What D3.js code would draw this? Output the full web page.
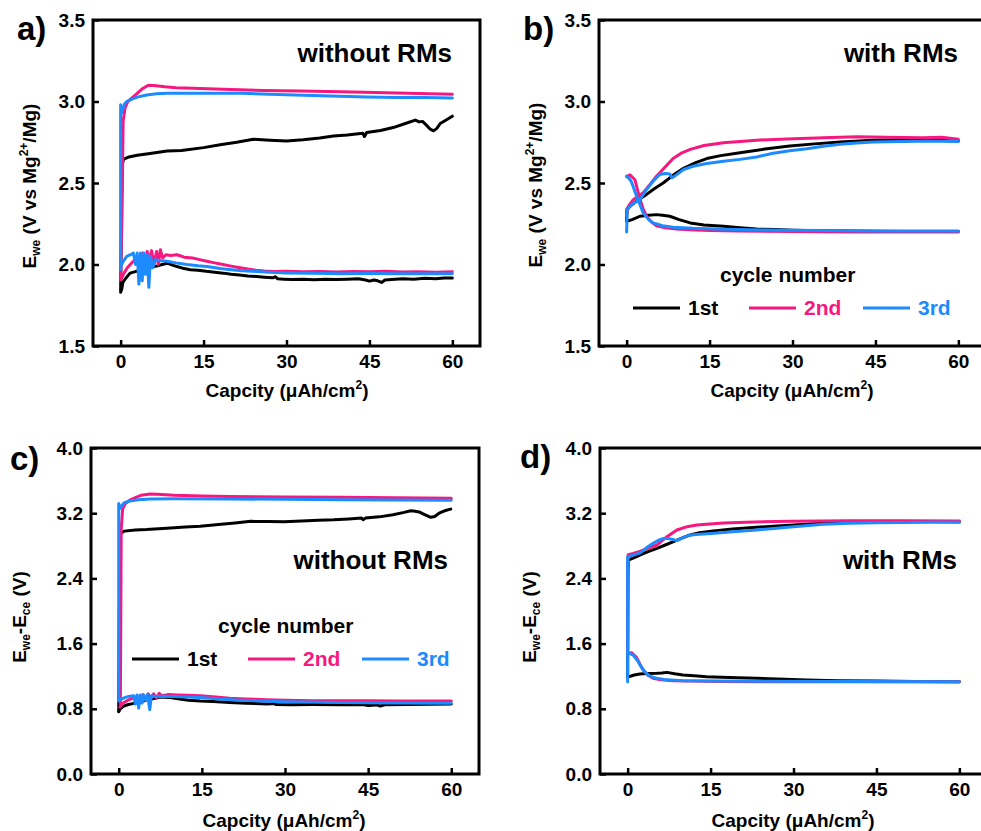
<!DOCTYPE html>
<html>
<head>
<meta charset="utf-8">
<script src="https://cdn.jsdelivr.net/npm/d3@7"></script>
<style>
  html, body { margin: 0; padding: 0; background: #fff; }
  svg text { font-family: "Liberation Sans", Arial, Helvetica, sans-serif; font-weight: bold; }
</style>
</head>
<body>
<svg id="chart" width="981" height="831"></svg>
<script>
// ---- axis ticks ----
const xTicks = [0, 15, 30, 45, 60];
const yTicksRef = [1.5, 2.0, 2.5, 3.0, 3.5];
const yTicksCell = [0.0, 0.8, 1.6, 2.4, 3.2, 4.0];

const cycleNames = ["1st", "2nd", "3rd"];
const cycleColors = ["#000000", "#f7187f", "#1c8bff"];

// ---- a) E_we vs Mg, without RMs : [capacity, voltage] ----
const aCharge1 = [[0,1.84],[0.12,2.2],[0.22,2.6],[0.5,2.645],[1.5,2.66],[3,2.67],[5,2.68],[8.4,2.696],[11,2.7],[15,2.717],[18,2.735],[21,2.75],[24,2.768],[27,2.762],[30,2.757],[33,2.765],[36,2.776],[38.5,2.788],[41,2.795],[43.8,2.805],[44.1,2.785],[44.5,2.81],[47,2.822],[49.3,2.84],[51.5,2.865],[53.3,2.886],[54,2.875],[54.6,2.878],[55.3,2.855],[56,2.83],[56.6,2.82],[57.2,2.835],[57.8,2.865],[58.8,2.885],[60,2.91]];
const aCharge2 = [[0,1.92],[0.25,2.3],[0.45,2.88],[0.8,2.96],[1.3,3.0],[2,3.02],[3,3.05],[4,3.08],[5,3.1],[6,3.098],[8,3.09],[10,3.085],[14.4,3.08],[20,3.073],[26,3.068],[32.5,3.065],[40,3.06],[46,3.055],[52,3.05],[60,3.045]];
const aCharge3 = [[0,1.97],[0,2.98],[0.15,2.93],[0.35,2.95],[0.7,2.985],[1.1,3.0],[2,3.015],[3,3.027],[4.7,3.04],[6.5,3.047],[8.4,3.05],[15,3.05],[22,3.05],[30,3.042],[38,3.034],[44.5,3.028],[50,3.025],[55,3.024],[60,3.022]];
const aDischarge1 = [[0,1.83],[0.2,1.85],[0.4,1.89],[0.8,1.91],[1.7,1.947],[2.5,1.955],[3.5,1.965],[4.5,1.975],[5.5,1.985],[6.5,1.99],[7.5,2.0],[8.4,2.008],[9.5,1.995],[10.5,1.985],[11.5,1.975],[12.6,1.968],[14,1.965],[15.5,1.958],[17,1.953],[18.6,1.947],[20,1.94],[21.5,1.935],[23,1.93],[24.6,1.926],[26,1.922],[27.5,1.918],[28,1.925],[28.4,1.912],[29.5,1.91],[31,1.908],[33,1.91],[35,1.907],[37,1.91],[39,1.908],[41,1.91],[43,1.912],[44.3,1.905],[45,1.898],[45.8,1.905],[46.5,1.9],[47.2,1.89],[47.8,1.905],[49,1.908],[51,1.912],[53,1.91],[55,1.915],[57,1.912],[58.5,1.917],[60,1.917]];
const aDischarge2 = [[0,1.905],[0.5,1.94],[1.2,1.98],[2.3,2.02],[3,2.04],[3.5,2.0],[4,2.07],[4.4,1.99],[4.8,2.08],[5.2,2.02],[5.6,2.085],[6,2.0],[6.5,2.08],[6.8,2.0],[7.2,2.09],[7.6,2.04],[8.2,2.06],[9,2.055],[10.2,2.06],[11.5,2.045],[13,2.04],[14.3,2.03],[15.6,2.02],[17,2.01],[18.5,2.0],[20,1.99],[21.6,1.98],[23,1.972],[24.5,1.965],[26,1.96],[27.6,1.957],[30,1.958],[33,1.955],[36,1.957],[39,1.954],[42,1.957],[45,1.955],[48,1.958],[51,1.954],[54,1.956],[57,1.953],[60,1.955]];
const aDischarge3 = [[0,1.99],[0.5,2.02],[1.1,2.05],[1.8,2.06],[2.3,2.07],[2.7,2.0],[3.0,2.07],[3.3,1.88],[3.6,2.07],[3.9,1.9],[4.2,2.07],[4.5,1.94],[4.8,2.06],[5.1,1.86],[5.4,2.05],[5.8,1.98],[6.3,2.03],[7,2.025],[8.4,2.02],[10,2.01],[12,2.0],[14,1.992],[15.6,1.988],[18,1.975],[20,1.968],[22,1.962],[24.6,1.957],[27,1.952],[30,1.948],[35,1.946],[40,1.944],[45,1.945],[50,1.943],[55,1.944],[60,1.943]];

// ---- b) E_we vs Mg, with RMs ----
const bCharge1 = [[0,2.27],[0.05,2.34],[0.6,2.357],[2,2.395],[3.6,2.43],[5,2.465],[6.6,2.5],[8.5,2.55],[10.3,2.59],[12.5,2.625],[14.5,2.65],[17,2.668],[20.5,2.686],[25,2.708],[29.5,2.727],[34,2.74],[38.6,2.751],[44.6,2.763],[50,2.765],[55,2.762],[60,2.757]];
const bCharge2 = [[0,2.3],[0.3,2.357],[1.2,2.398],[3,2.44],[4.2,2.49],[5.4,2.542],[7,2.6],[8.4,2.65],[10,2.685],[11.5,2.706],[14,2.73],[17.5,2.747],[23.5,2.763],[29,2.77],[35.6,2.778],[41.6,2.783],[47,2.78],[53.6,2.777],[57,2.78],[60,2.768]];
const bCharge3 = [[0,2.2],[0.1,2.337],[1,2.37],[2.4,2.398],[3.6,2.46],[4.8,2.511],[6,2.552],[7,2.558],[7.8,2.556],[8.2,2.532],[8.8,2.545],[10.3,2.583],[12,2.603],[14.5,2.62],[17.5,2.633],[20.5,2.645],[23.5,2.66],[26.5,2.682],[29.5,2.698],[32.6,2.71],[35.6,2.725],[38.6,2.737],[41.6,2.746],[44.6,2.752],[50,2.755],[55,2.757],[60,2.755]];
const bDischarge1 = [[0,2.265],[1,2.275],[2.4,2.296],[4,2.302],[5.4,2.306],[6.5,2.302],[7.8,2.296],[9.5,2.275],[11.5,2.255],[14,2.243],[17.5,2.234],[20.5,2.226],[23.5,2.218],[27,2.214],[30,2.21],[35,2.207],[40,2.205],[45,2.204],[50,2.203],[55,2.202],[60,2.203]];
const bDischarge2 = [[0,2.54],[0.6,2.55],[1.5,2.52],[2.4,2.40],[3,2.34],[3.6,2.296],[4.5,2.26],[5.4,2.238],[7,2.225],[9,2.218],[11.5,2.213],[15,2.208],[20,2.205],[30,2.203],[40,2.2],[50,2.2],[60,2.2]];
const bDischarge3 = [[0,2.542],[0.5,2.525],[0.9,2.505],[1.8,2.419],[3,2.317],[4,2.275],[4.8,2.255],[6.5,2.238],[8.4,2.228],[12,2.222],[17.5,2.217],[25,2.212],[35,2.208],[45,2.206],[60,2.205]];

// ---- c) cell voltage, without RMs ----
const cCharge1 = [[0,0.77],[0.12,2.0],[0.25,2.95],[1,2.98],[3,2.995],[5,3.0],[8.7,3.015],[12,3.03],[14.7,3.04],[18,3.06],[21,3.08],[23.8,3.1],[27,3.097],[29.8,3.096],[33,3.105],[36,3.115],[38.8,3.12],[41.5,3.13],[43.8,3.14],[44.1,3.12],[44.5,3.14],[47,3.155],[49.5,3.18],[51.5,3.21],[52.7,3.23],[53.5,3.225],[54.2,3.215],[55,3.19],[56.3,3.15],[57,3.16],[57.8,3.2],[58.8,3.23],[59.9,3.25]];
const cCharge2 = [[0.3,0.85],[0.45,3.0],[0.7,3.25],[1.2,3.32],[2,3.36],[3,3.39],[4,3.42],[5.7,3.436],[7,3.432],[10,3.42],[15,3.41],[20,3.405],[30,3.4],[40,3.395],[50,3.39],[60,3.383]];
const cCharge3 = [[0,0.9],[0,3.32],[0.2,3.26],[0.5,3.29],[1,3.33],[2,3.35],[3.5,3.365],[5.7,3.374],[10,3.378],[20,3.375],[30,3.37],[40,3.365],[50,3.362],[60,3.36]];
const cDischarge1 = [[0,0.765],[0.3,0.8],[0.8,0.83],[1.6,0.85],[2.7,0.867],[4,0.89],[5.5,0.915],[7.5,0.945],[9,0.94],[11,0.92],[12.6,0.905],[14.7,0.896],[17,0.89],[20,0.878],[23,0.868],[26.8,0.859],[28,0.866],[28.4,0.852],[31,0.85],[35,0.852],[40,0.849],[44,0.852],[45,0.84],[46.5,0.848],[47.2,0.835],[48,0.85],[52,0.853],[56,0.855],[60,0.858]];
const cDischarge2 = [[0.2,0.82],[0.8,0.87],[1.5,0.9],[2.5,0.93],[3.5,0.95],[4,0.91],[4.4,0.975],[4.8,0.92],[5.3,0.985],[5.8,0.93],[6.3,0.985],[6.8,0.93],[7.3,0.99],[7.8,0.96],[9,0.975],[10.5,0.97],[12.5,0.965],[14.7,0.96],[17,0.948],[20,0.93],[23,0.92],[26.8,0.912],[30,0.905],[35,0.9],[40,0.9],[45,0.898],[50,0.897],[55,0.896],[60,0.895]];
const cDischarge3 = [[0,0.9],[0.5,0.92],[1.2,0.94],[2,0.955],[2.7,0.96],[3,0.86],[3.3,0.97],[3.6,0.81],[3.9,0.97],[4.2,0.87],[4.5,0.97],[4.9,0.9],[5.2,0.97],[5.6,0.79],[5.9,0.96],[6.5,0.95],[8,0.955],[10,0.952],[14.7,0.94],[18,0.92],[22,0.905],[26.8,0.892],[30,0.885],[40,0.877],[50,0.872],[60,0.867]];

// ---- d) cell voltage, with RMs ----
const dCharge1 = [[0,1.2],[0.05,2.4],[0.1,2.626],[1,2.65],[2.2,2.687],[3.7,2.728],[5.3,2.769],[6.8,2.81],[8.3,2.85],[9.8,2.895],[11.3,2.933],[13,2.96],[15.1,2.98],[19,3.005],[23.3,3.027],[27,3.043],[30,3.055],[35.4,3.076],[40,3.088],[45,3.096],[50,3.098],[55,3.097],[60,3.096]];
const dCharge2 = [[0,1.47],[0.05,2.4],[0.1,2.69],[1,2.705],[2.2,2.73],[3.7,2.77],[5.3,2.81],[6.2,2.86],[7.1,2.912],[8.9,2.994],[10.5,3.03],[12.5,3.055],[17.3,3.08],[23,3.092],[29.4,3.1],[35,3.104],[40,3.106],[50,3.106],[60,3.105]];
const dCharge3 = [[0,1.133],[0,2.667],[1,2.685],[2.2,2.71],[3.4,2.775],[4.6,2.83],[5.5,2.865],[6.5,2.89],[7.3,2.89],[8,2.88],[8.9,2.864],[10,2.9],[11.3,2.933],[13,2.942],[15.1,2.95],[19,2.972],[23.3,2.994],[27,3.015],[30,3.035],[35.4,3.064],[40,3.076],[45,3.084],[50,3.087],[55,3.088],[60,3.088]];
const dDischarge1 = [[0,1.194],[0.5,1.2],[1.2,1.215],[2.2,1.227],[3.5,1.232],[5.3,1.235],[6.2,1.24],[7.1,1.247],[8.5,1.23],[10,1.215],[12,1.205],[14.3,1.194],[17,1.188],[20,1.18],[23.3,1.174],[27,1.165],[32.4,1.153],[38,1.145],[45,1.14],[52,1.136],[60,1.133]];
const dDischarge2 = [[0,1.47],[0.2,1.481],[0.7,1.489],[1.6,1.432],[2.2,1.35],[2.8,1.276],[3.6,1.215],[4.6,1.174],[6,1.155],[8.3,1.145],[12,1.14],[17,1.135],[25,1.133],[40,1.132],[60,1.133]];
const dDischarge3 = [[0,1.48],[0.5,1.475],[1,1.46],[1.9,1.378],[2.5,1.31],[3.1,1.255],[4,1.2],[5.3,1.174],[7,1.155],[10,1.145],[15,1.14],[25,1.137],[40,1.135],[60,1.133]];

// ---- panel layout ----
const panels = [
  { letter: "a)", lx: 17, ly: 40, left: 93, right: 480, top: 20, bottom: 346,
    yDomain: [1.5, 3.5], yTicks: yTicksRef, yTitle: "ref", ytx: 36, yty: 186,
    xtx: 287, xty: 397, note: "without RMs", nx: 452, ny: 62,
    series: [[aCharge1, aDischarge1], [aCharge2, aDischarge2], [aCharge3, aDischarge3]] },
  { letter: "b)", lx: 523, ly: 40, left: 599, right: 986, top: 20, bottom: 346,
    yDomain: [1.5, 3.5], yTicks: yTicksRef, yTitle: "ref", ytx: 542, yty: 185,
    xtx: 792, xty: 397, note: "with RMs", nx: 958, ny: 62,
    legend: { tx: 720, ty: 282, ly: 308, x: [633, 749, 863], tw: 47, lty: 315 },
    series: [[bCharge1, bDischarge1], [bCharge2, bDischarge2], [bCharge3, bDischarge3]] },
  { letter: "c)", lx: 10, ly: 470, left: 91, right: 479, top: 448, bottom: 774,
    yDomain: [0, 4], yTicks: yTicksCell, yTitle: "cell", ytx: 26, yty: 617,
    xtx: 284, xty: 827, note: "without RMs", nx: 448, ny: 569,
    legend: { tx: 218, ty: 633, ly: 659, x: [132, 248, 362], tw: 47, lty: 666 },
    series: [[cCharge1, cDischarge1], [cCharge2, cDischarge2], [cCharge3, cDischarge3]] },
  { letter: "d)", lx: 520, ly: 468, left: 600, right: 987, top: 448, bottom: 774,
    yDomain: [0, 4], yTicks: yTicksCell, yTitle: "cell", ytx: 536, yty: 617,
    xtx: 793, xty: 827, note: "with RMs", nx: 957, ny: 569,
    series: [[dCharge1, dDischarge1], [dCharge2, dDischarge2], [dCharge3, dDischarge3]] }
];

const svg = d3.select("#chart");

function yTitle(g, kind) {
  const t = g.append("text").attr("text-anchor", "middle").attr("font-size", 19);
  if (kind === "ref") {
    t.append("tspan").text("E");
    t.append("tspan").attr("font-size", 12).attr("dy", 4).text("we");
    t.append("tspan").attr("dy", -4).text(" (V vs Mg");
    t.append("tspan").attr("font-size", 12).attr("dy", -8).text("2+");
    t.append("tspan").attr("dy", 8).text("/Mg)");
  } else {
    t.append("tspan").text("E");
    t.append("tspan").attr("font-size", 12).attr("dy", 4).text("we");
    t.append("tspan").attr("dy", -4).text("-E");
    t.append("tspan").attr("font-size", 12).attr("dy", 4).text("ce");
    t.append("tspan").attr("dy", -4).text(" (V)");
  }
  return t;
}

panels.forEach(p => {
  const g = svg.append("g");
  const x = d3.scaleLinear().domain([-5, 65]).range([p.left, p.right]);
  const y = d3.scaleLinear().domain(p.yDomain).range([p.bottom, p.top]);

  // curves: black, pink, blue
  const line = d3.line().x(d => x(d[0])).y(d => y(d[1]));
  p.series.forEach((pair, i) => {
    pair.forEach(arr => {
      g.append("path").datum(arr).attr("d", line)
        .attr("fill", "none").attr("stroke", cycleColors[i])
        .attr("stroke-width", 3).attr("stroke-linejoin", "round").attr("stroke-linecap", "round");
    });
  });

  // axes with inward ticks
  const xAxis = d3.axisBottom(x).tickValues(xTicks).tickSizeInner(-6).tickSizeOuter(0).tickPadding(9)
    .tickFormat(d3.format("d"));
  const gx = g.append("g").attr("transform", `translate(0,${p.bottom})`).call(xAxis);
  const yAxis = d3.axisLeft(y).tickValues(p.yTicks).tickSizeInner(-6).tickSizeOuter(0).tickPadding(8)
    .tickFormat(d3.format(".1f"));
  const gy = g.append("g").attr("transform", `translate(${p.left},0)`).call(yAxis);
  [gx, gy].forEach(a => {
    a.select(".domain").remove();
    a.selectAll(".tick line").attr("stroke", "#000").attr("stroke-width", 2.5);
    a.selectAll(".tick text").attr("fill", "#000").attr("font-size", 19)
      .attr("font-family", "Liberation Sans, Arial, sans-serif").attr("font-weight", "bold");
  });

  // frame
  g.append("rect").attr("x", p.left).attr("y", p.top)
    .attr("width", p.right - p.left).attr("height", p.bottom - p.top)
    .attr("fill", "none").attr("stroke", "#000").attr("stroke-width", 3);

  // panel letter
  g.append("text").attr("x", p.lx).attr("y", p.ly).attr("font-size", 33).text(p.letter);

  // annotation
  g.append("text").attr("x", p.nx).attr("y", p.ny).attr("text-anchor", "end")
    .attr("font-size", 26).text(p.note);

  // x title
  const xt = g.append("text").attr("x", p.xtx).attr("y", p.xty).attr("text-anchor", "middle").attr("font-size", 19);
  xt.append("tspan").text("Capcity (\u03bcAh/cm");
  xt.append("tspan").attr("font-size", 12).attr("dy", -8).text("2");
  xt.append("tspan").attr("dy", 8).text(")");

  // y title
  yTitle(g, p.yTitle).attr("transform", `translate(${p.ytx},${p.yty}) rotate(-90)`);

  // legend
  if (p.legend) {
    const L = p.legend;
    g.append("text").attr("x", L.tx).attr("y", L.ty).attr("font-size", 21).text("cycle number");
    cycleNames.forEach((name, i) => {
      g.append("line").attr("x1", L.x[i]).attr("x2", L.x[i] + L.tw)
        .attr("y1", L.ly).attr("y2", L.ly)
        .attr("stroke", cycleColors[i]).attr("stroke-width", 3);
      g.append("text").attr("x", L.x[i] + L.tw + 8).attr("y", L.lty)
        .attr("font-size", 21).attr("fill", cycleColors[i]).text(name);
    });
  }
});
</script>
</body>
</html>
